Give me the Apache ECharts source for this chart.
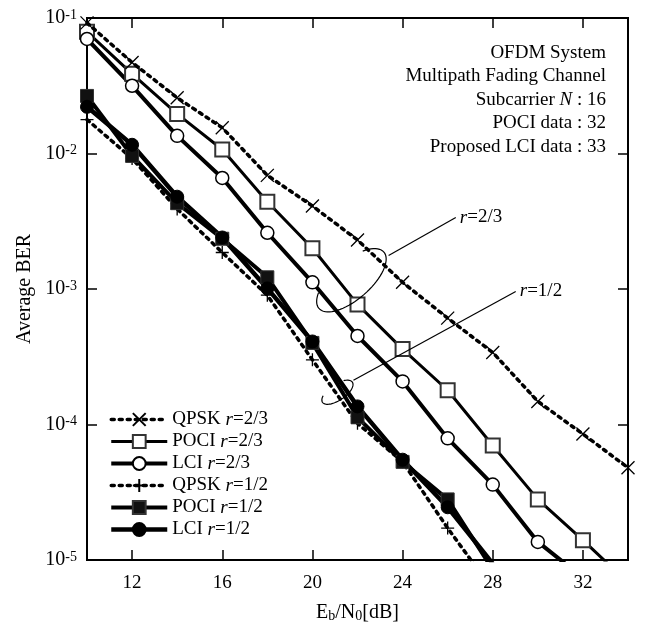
<!DOCTYPE html>
<html>
<head>
<meta charset="utf-8">
<title>BER vs Eb/N0</title>
<script src="https://cdn.jsdelivr.net/npm/echarts@6/dist/echarts.min.js"></script>
<style>
  html, body { margin: 0; padding: 0; background: #fff; }
  #main { width: 647px; height: 628px; }
</style>
</head>
<body>
<div id="main"></div>
<script>
// Eb/N0 [dB] 点
var ebn0 = [10, 12, 14, 16, 18, 20, 22, 24, 26, 28, 30, 32, 34];
var xTicks = [12, 16, 20, 24, 28, 32];

// r=2/3
var qpskR23 = [0.092, 0.047, 0.0258, 0.0155, 0.0069, 0.0041, 0.0023, 0.00112, 6.1e-4, 3.4e-4, 1.48e-4, 8.5e-5, 4.8e-5];
var pociR23 = [0.079, 0.0387, 0.0196, 0.0107, 0.0044, 0.0020, 7.7e-4, 3.6e-4, 1.79e-4, 7.0e-5, 2.8e-5, 1.4e-5, 6.8e-6];
var lciR23  = [0.070, 0.0316, 0.0135, 0.0066, 0.0026, 0.00112, 4.5e-4, 2.08e-4, 7.9e-5, 3.6e-5, 1.36e-5, 7.4e-6];
// r=1/2
var qpskR12 = [0.0178, 0.0092, 0.0039, 0.00186, 9.0e-4, 3.0e-4, 1.02e-4, 5.3e-5, 1.72e-5, 6.0e-6];
var pociR12 = [0.0266, 0.0096, 0.0043, 0.00235, 0.00122, 4.0e-4, 1.13e-4, 5.3e-5, 2.8e-5, 8.5e-6];
var lciR12  = [0.0221, 0.0116, 0.0048, 0.0024, 0.00101, 4.1e-4, 1.36e-4, 5.5e-5, 2.45e-5, 9.4e-6];

var seriesNames = ['QPSK r=2/3', 'POCI r=2/3', 'LCI r=2/3', 'QPSK r=1/2', 'POCI r=1/2', 'LCI r=1/2'];
var infoLines = ['OFDM System', 'Multipath Fading Channel', 'Subcarrier {i|N} : 16', 'POCI data : 32', 'Proposed LCI data : 33'];

var FONT = 'Liberation Serif';
var CROSS = 'path://M0,0L10,10M10,0L0,10';
var PLUS = 'path://M5,0L5,10M0,5L10,5';

function pairs(ys) {
    return ys.map(function (v, i) { return [ebn0[i], v]; });
}

function mkSeries(name, ys, opt) {
    return {
        name: name,
        type: 'line',
        clip: true,
        data: pairs(ys),
        symbol: opt.symbol,
        symbolSize: opt.size,
        showAllSymbol: true,
        lineStyle: { color: '#000', width: opt.width, type: opt.dash || 'solid', cap: opt.dash ? 'round' : 'butt' },
        itemStyle: { color: opt.fill, borderColor: opt.border, borderWidth: opt.bw },
        z: opt.z || 2,
        animation: false
    };
}

var myChart = echarts.init(document.getElementById('main'));

var option = {
    backgroundColor: '#fff',
    textStyle: { fontFamily: FONT, color: '#000' },
    grid: { left: 87, right: 19, top: 18, bottom: 67, show: true, borderColor: '#000', borderWidth: 2 },
    legend: {
        data: seriesNames,
        orient: 'vertical',
        left: 104,
        top: 405,
        itemWidth: 56,
        itemHeight: 16,
        itemGap: 3,
        lineStyle: { width: 'inherit' },
        textStyle: {
            fontFamily: FONT, fontSize: 19, color: '#000',
            rich: { i: { fontFamily: FONT, fontSize: 19, fontStyle: 'italic', color: '#000' } }
        },
        formatter: function (name) {
            return name.replace(' r=', ' {i|r}=');
        }
    },
    xAxis: [{
        type: 'value', min: 10, max: 34,
        position: 'bottom',
        splitLine: { show: false },
        axisLine: { show: true, lineStyle: { color: '#000', width: 2 } },
        axisTick: { inside: true, length: 10, lineStyle: { color: '#000', width: 1.5 }, customValues: xTicks },
        axisLabel: { fontFamily: FONT, fontSize: 19, color: '#000', margin: 14, customValues: xTicks },
        name: 'E{sub|b}/N{sub|0}[dB]',
        nameLocation: 'middle',
        nameGap: 43,
        nameTextStyle: {
            fontFamily: FONT, fontSize: 20, color: '#000', padding: [0, 0, 3, 0],
            rich: { sub: { fontFamily: FONT, fontSize: 14, color: '#000', verticalAlign: 'bottom' } }
        }
    }, {
        type: 'value', min: 10, max: 34,
        position: 'top',
        splitLine: { show: false },
        axisLine: { show: false },
        axisTick: { inside: true, length: 10, lineStyle: { color: '#000', width: 1.5 }, customValues: xTicks },
        axisLabel: { show: false, customValues: xTicks }
    }],
    yAxis: [{
        type: 'log', logBase: 10, min: 1e-5, max: 1e-1,
        position: 'left',
        splitLine: { show: false },
        minorTick: { show: false },
        axisLine: { show: true, lineStyle: { color: '#000', width: 2 } },
        axisTick: { inside: true, length: 10, lineStyle: { color: '#000', width: 1.5 } },
        axisLabel: {
            margin: 10,
            formatter: function (v) {
                return '{b|10}{s|' + Math.round(Math.log10(v)) + '}';
            },
            rich: {
                b: { fontFamily: FONT, fontSize: 20, color: '#000' },
                s: { fontFamily: FONT, fontSize: 14, color: '#000', verticalAlign: 'top' }
            }
        },
        name: 'Average BER',
        nameLocation: 'middle',
        nameRotate: 90,
        nameGap: 45,
        nameTextStyle: { fontFamily: FONT, fontSize: 20, color: '#000' }
    }, {
        type: 'log', logBase: 10, min: 1e-5, max: 1e-1,
        position: 'right',
        splitLine: { show: false },
        minorTick: { show: false },
        axisLine: { show: false },
        axisTick: { inside: true, length: 10, lineStyle: { color: '#000', width: 1.5 } },
        axisLabel: { show: false }
    }],
    series: [
        mkSeries(seriesNames[0], qpskR23, { symbol: CROSS, size: 13, width: 3.5, dash: [3, 5], fill: '#000', border: '#000', bw: 1.3, z: 3 }),
        mkSeries(seriesNames[1], pociR23, { symbol: 'rect', size: 14, width: 3, fill: '#fff', border: '#333', bw: 2 }),
        mkSeries(seriesNames[2], lciR23, { symbol: 'circle', size: 13, width: 4, fill: '#fff', border: '#000', bw: 1.5 }),
        mkSeries(seriesNames[3], qpskR12, { symbol: PLUS, size: 13, width: 3.5, dash: [3, 5], fill: '#000', border: '#000', bw: 1.3 }),
        mkSeries(seriesNames[4], pociR12, { symbol: 'rect', size: 13, width: 4, fill: '#111', border: '#333', bw: 1 }),
        mkSeries(seriesNames[5], lciR12, { symbol: 'circle', size: 13, width: 4.5, fill: '#000', border: '#000', bw: 1 })
    ]
};

myChart.setOption(option);

// 注释：椭圆 + 引出线 + 文字，锚点用数据坐标
var notes = [
    { label: 'r=2/3', center: [21.73, 1.16e-3], rx: 43, ry: 19, angle: 41, from: [23.38, 1.77e-3], to: [26.36, 3.37e-3] },
    { label: 'r=1/2', center: [21.11, 1.73e-4], rx: 18, ry: 8, angle: 34, from: [21.82, 2.12e-4], to: [29.02, 9.6e-4] }
];

function ellipseArc(c, rx, ry, angleDeg, t0, t1) {
    var a = angleDeg * Math.PI / 180;
    var pts = [];
    for (var t = t0; t <= t1; t += 5) {
        var r = t * Math.PI / 180;
        var u = rx * Math.cos(r), v = ry * Math.sin(r);
        // u 朝右上, v 朝左上 (屏幕 y 向下)
        pts.push([c[0] + u * Math.cos(a) - v * Math.sin(a), c[1] - u * Math.sin(a) - v * Math.cos(a)]);
    }
    return pts;
}

var graphics = [];
notes.forEach(function (n) {
    var c = myChart.convertToPixel({ gridIndex: 0 }, n.center);
    var p1 = myChart.convertToPixel({ gridIndex: 0 }, n.from);
    var p2 = myChart.convertToPixel({ gridIndex: 0 }, n.to);
    graphics.push({
        type: 'polyline', silent: true, z: 10,
        shape: { points: ellipseArc(c, n.rx, n.ry, n.angle, 140, 410) },
        style: { stroke: '#000', lineWidth: 1.2, fill: null }
    });
    graphics.push({
        type: 'line', silent: true, z: 10,
        shape: { x1: p1[0], y1: p1[1], x2: p2[0], y2: p2[1] },
        style: { stroke: '#000', lineWidth: 1.2 }
    });
    graphics.push({
        type: 'text', silent: true, z: 10,
        x: p2[0] + 4, y: p2[1],
        style: {
            text: n.label.replace('r=', '{i|r}='),
            fontFamily: FONT, fontSize: 19, fill: '#000',
            verticalAlign: 'middle', align: 'left',
            rich: { i: { fontFamily: FONT, fontSize: 19, fontStyle: 'italic', fill: '#000' } }
        }
    });
});

// 右上角说明文字，每行右对齐
infoLines.forEach(function (t, i) {
    graphics.push({
        type: 'text', silent: true, z: 10,
        x: 606, y: 53 + i * 23.5,
        style: {
            text: t,
            fontFamily: FONT, fontSize: 19, fill: '#000',
            align: 'right', verticalAlign: 'middle',
            rich: { i: { fontFamily: FONT, fontSize: 19, fontStyle: 'italic', fill: '#000' } }
        }
    });
});

myChart.setOption({ graphic: graphics });
</script>
</body>
</html>
